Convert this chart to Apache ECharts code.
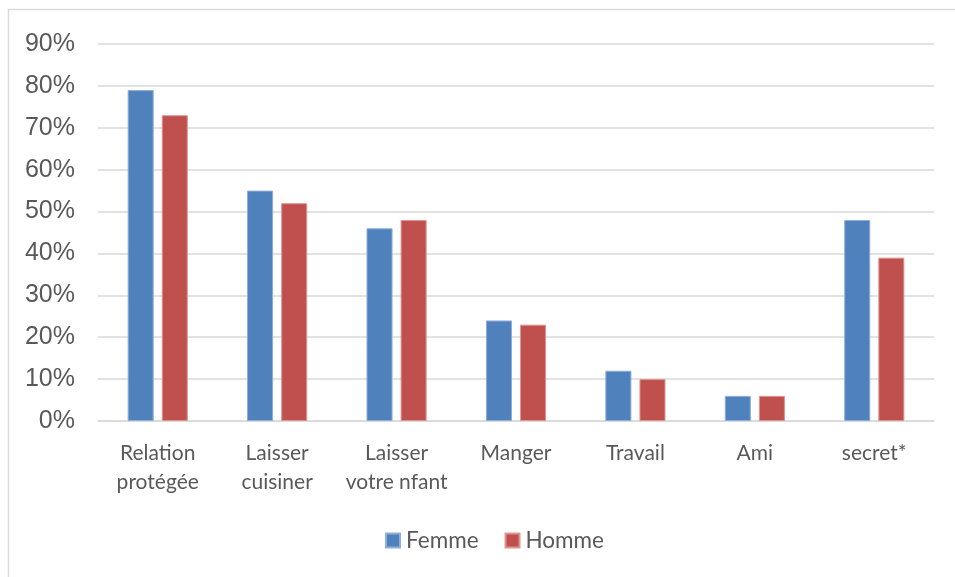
<!DOCTYPE html>
<html>
<head>
<meta charset="utf-8">
<script src="https://cdn.jsdelivr.net/npm/echarts@6/dist/echarts.min.js"></script>
<style>
  html, body { margin: 0; padding: 0; background: #fff; }
  #chart { width: 955px; height: 577px; }
</style>
</head>
<body>
<div id="chart"></div>
<script>
// Categories and percentages by gender
var categories = ['Relation\nprotégée', 'Laisser\ncuisiner', 'Laisser\nvotre nfant', 'Manger', 'Travail', 'Ami', 'secret*'];
var femme = [79, 55, 46, 24, 12, 6, 48];
var homme = [73, 52, 48, 23, 10, 6, 39];
var seriesNames = ['Femme', 'Homme'];

var chart = echarts.init(document.getElementById('chart'), null, { renderer: 'canvas' });

var labelFont = 'Lato, "Noto Sans", sans-serif';

chart.setOption({
  animation: false,
  backgroundColor: '#ffffff',
  graphic: [{
    type: 'rect',
    z: -10,
    shape: { x: 8.5, y: 9.5, width: 980, height: 600 },
    style: { fill: 'none', stroke: '#d9d9d9', lineWidth: 1.5 }
  }],
  grid: { left: 98, right: 21, top: 44, bottom: 156, containLabel: false },
  legend: {
    data: seriesNames,
    top: 524,
    left: 380,
    itemWidth: 14,
    itemHeight: 14,
    itemGap: 26,
    icon: 'rect',
    textStyle: { fontFamily: labelFont, fontSize: 22.5, color: '#595959', padding: [0, 0, 0, 1] }
  },
  xAxis: {
    type: 'category',
    data: categories,
    axisLine: { lineStyle: { color: '#d9d9d9', width: 1.5 } },
    axisTick: { show: false },
    axisLabel: {
      fontFamily: labelFont,
      fontSize: 21,
      color: '#595959',
      lineHeight: 29,
      margin: 18,
      interval: 0
    }
  },
  yAxis: {
    type: 'value',
    min: 0,
    max: 90,
    interval: 10,
    axisLine: { show: false },
    axisTick: { show: false },
    splitLine: { lineStyle: { color: '#d9d9d9', width: 1.5 } },
    axisLabel: {
      formatter: '{value}%',
      fontFamily: '"Liberation Sans", Arial, sans-serif',
      fontSize: 25,
      color: '#595959',
      margin: 23,
      verticalAlign: 'middle',
      padding: [3, 0, 0, 0]
    }
  },
  series: [
    {
      name: seriesNames[0],
      type: 'bar',
      data: femme,
      barWidth: '21.8%',
      barGap: '31%',
      itemStyle: { color: '#4f81bd', borderColor: '#8eaedb', borderWidth: 1 }
    },
    {
      name: seriesNames[1],
      type: 'bar',
      data: homme,
      barWidth: '21.8%',
      barGap: '31%',
      itemStyle: { color: '#c0504d', borderColor: '#dc9593', borderWidth: 1 }
    }
  ]
});
</script>
</body>
</html>
